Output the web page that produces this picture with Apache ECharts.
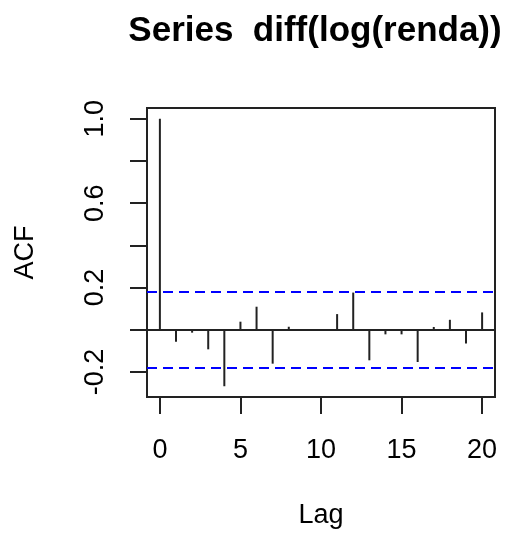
<!DOCTYPE html>
<html>
<head>
<meta charset="utf-8">
<script src="https://cdn.jsdelivr.net/npm/echarts@6/dist/echarts.min.js"></script>
<style>
html,body{margin:0;padding:0;background:#fff}
#chart{width:511px;height:540px}
</style>
</head>
<body>
<div id="chart"></div>
<script>
// lags e valores da ACF
var lags = [0, 1, 2, 3, 4, 5, 6, 7, 8, 9, 10, 11, 12, 13, 14, 15, 16, 17, 18, 19, 20];
var acfValues = [1.0, -0.057, -0.014, -0.093, -0.268, 0.038, 0.109, -0.161, 0.014, 0.003, -0.002,
	0.074, 0.176, -0.145, -0.022, -0.022, -0.153, 0.013, 0.047, -0.065, 0.082];
var ciBound = 0.179;
var xTicks = [0, 5, 10, 15, 20];
var yTicks = [-0.2, 0, 0.2, 0.4, 0.6, 0.8, 1.0];
var yLabels = [-0.2, 0.2, 0.6, 1.0];

var barData = lags.map(function(l, i) {
	return [l, acfValues[i]];
});

var font = '"Liberation Sans", Arial, sans-serif';

var chart = echarts.init(document.getElementById('chart'));
chart.setOption({
	animation: false,
	title: {
		text: 'Series  diff(log(renda))',
		left: 310,
		top: 9,
		textAlign: 'center',
		textStyle: {
			fontFamily: font,
			fontSize: 35,
			fontWeight: 'bold',
			color: '#000'
		}
	},
	grid: {
		left: 147,
		right: 16,
		top: 108,
		bottom: 143,
		show: true,
		borderColor: '#222',
		borderWidth: 2,
		backgroundColor: 'transparent'
	},
	xAxis: {
		type: 'value',
		min: -0.8,
		max: 20.8,
		name: 'Lag',
		nameLocation: 'middle',
		nameGap: 105,
		nameTextStyle: { fontFamily: font, fontSize: 27, color: '#000' },
		axisLine: { show: false, onZero: false },
		splitLine: { show: false },
		axisTick: {
			show: true,
			inside: false,
			length: 17,
			customValues: xTicks,
			lineStyle: { color: '#222', width: 2 }
		},
		axisLabel: {
			customValues: xTicks,
			margin: 40,
			fontFamily: font,
			fontSize: 27,
			color: '#000'
		}
	},
	yAxis: {
		type: 'value',
		min: -0.319,
		max: 1.051,
		name: 'ACF',
		nameLocation: 'middle',
		nameRotate: 90,
		nameGap: 108,
		nameTextStyle: { fontFamily: font, fontSize: 27, color: '#000' },
		axisLine: { show: false, onZero: false },
		splitLine: { show: false },
		axisTick: {
			show: true,
			inside: false,
			length: 17,
			customValues: yTicks,
			lineStyle: { color: '#222', width: 2 }
		},
		axisLabel: {
			customValues: yLabels,
			rotate: 90,
			margin: 38,
			fontFamily: font,
			fontSize: 27,
			color: '#000',
			formatter: function(v) {
				return v.toFixed(1);
			}
		}
	},
	series: [{
		type: 'bar',
		data: barData,
		barWidth: 2,
		itemStyle: { color: '#222' },
		markLine: {
			silent: true,
			symbol: 'none',
			label: { show: false },
			data: [
				{ yAxis: 0, lineStyle: { color: '#222', width: 2, type: 'solid' } },
				{ yAxis: ciBound, lineStyle: { color: '#0000ff', width: 2, type: [10, 6] } },
				{ yAxis: -ciBound, lineStyle: { color: '#0000ff', width: 2, type: [10, 6] } }
			]
		}
	}]
});
</script>
</body>
</html>
